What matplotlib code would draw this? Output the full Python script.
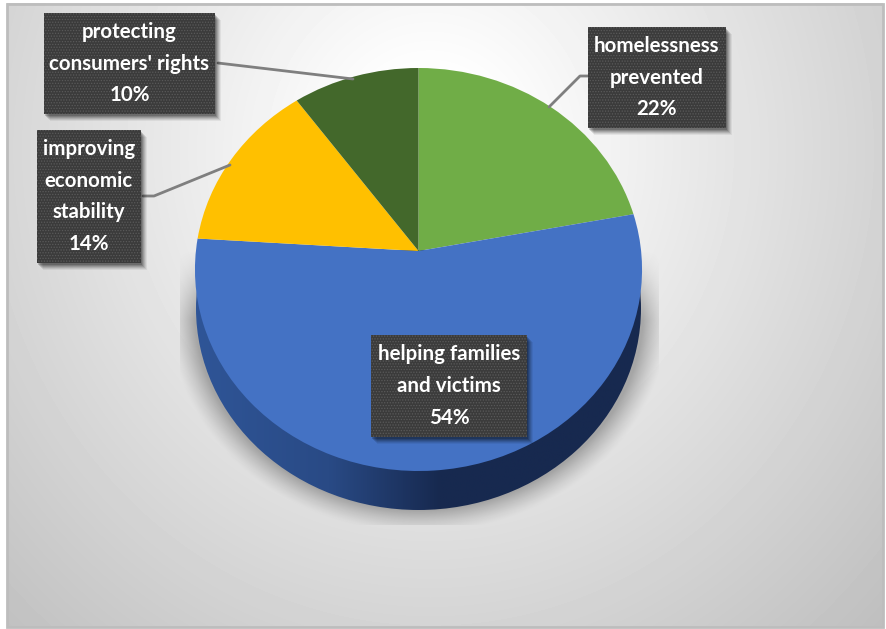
import numpy as np
import matplotlib
matplotlib.use("Agg")
import matplotlib.pyplot as plt
from matplotlib.colors import LinearSegmentedColormap
from matplotlib.patches import Ellipse, Rectangle
from matplotlib.transforms import Transform

# chart data, clockwise from 12 o'clock
labels = ["homelessness\nprevented", "helping families\nand victims", "improving\neconomic\nstability", "protecting\nconsumers' rights"]
values = [22, 54, 14, 10]
colors = ["#70AD47", "#4472C4", "#FFC000", "#43682B"]

plt.rcParams["font.family"] = ["Lato", "DejaVu Sans"]
plt.rcParams["hatch.linewidth"] = 0.6
W, H = 887, 629


class TiltedPie(Transform):
    # perspective view of the unit disc, apex sits above the middle of the ellipse
    input_dims = 2
    output_dims = 2

    def transform_non_affine(self, xy):
        xy = np.asarray(xy)
        d = 0.0918 * xy[:, 1] + 1
        return np.column_stack([418.5 + 222.6 * xy[:, 0] / d, (251 - 176.76 * xy[:, 1]) / d])


fig = plt.figure(figsize=(W / 100, H / 100), dpi=100)
ax = fig.add_axes([0, 0, 1, 1])

# grey background, bright at the top middle, white margin outside the frame
yy, xx = np.mgrid[0:H, 0:W]
dist = np.hypot((xx - 430) / 560, (yy - 150) / 600)
shade = np.clip(1.03 - 0.25 * dist, 0, 1)
shade = np.where((xx < 7) | (xx > 882) | (yy < 3) | (yy > 626), 1.0, shade)
ax.imshow(shade, cmap="gray", vmin=0, vmax=1, extent=(0, W, H, 0), zorder=0, interpolation="bilinear")
ax.add_patch(Rectangle((7, 3.5), W - 11, H - 6, fill=False, ec="#bdbdbd", lw=2, zorder=1))

# soft shadow under the pie, it is cut off by a hard box
r = np.hypot((xx - 418.5) / 236, (yy - 312) / 208)
soft = np.clip(1 - (r - 0.95) / 0.11, 0, 1) ** 1.3
soft = soft * np.clip((yy - 250) / 70, 0, 1)
soft = np.where((yy > 524) | (xx < 180) | (xx > 658), 0, soft)
rgba = np.zeros((H, W, 4))
rgba[..., :3] = 0.4
rgba[..., 3] = soft * 0.5
ax.imshow(rgba, extent=(0, W, H, 0), zorder=2, interpolation="bilinear")

# side wall of the pie
side = Ellipse((418.5, 308.5), 445, 403, fc="none", ec="none")
ax.add_patch(side)
ramp = np.interp(np.linspace(0, 1, 256), [0, 0.3, 0.55, 1], [0.0, 0.25, 1.0, 1.0])[None, :]
wall = ax.imshow(ramp, cmap=LinearSegmentedColormap.from_list("wall", ["#2F5597", "#17294F"]),
                 extent=(195, 642, 530, 250), zorder=3, aspect="auto")
wall.set_clip_path(side)

wedges, _ = ax.pie(values, colors=colors, startangle=90, counterclock=False, radius=1, center=(0, 0))
for w in wedges:
    w.set_transform(TiltedPie() + ax.transData)
    w.set_zorder(4)
    w.set_edgecolor("none")

ax.set_aspect("auto")
ax.set_xlim(0, W)
ax.set_ylim(H, 0)
ax.axis("off")

# leader lines
for lx, ly in [([588, 580, 549], [76, 76, 107]), ([218, 353], [63, 79]), ([143, 154, 230], [196, 196, 165])]:
    ax.plot(lx, ly, color="#7f7f7f", lw=2, zorder=5, solid_capstyle="round")

# label boxes: left, top, right, bottom
boxes = [(588, 27, 726, 128), (371, 335, 527, 437), (37, 130, 141, 263), (44, 13, 215, 114)]
for name, v, (x0, y0, x1, y1) in zip(labels, values, boxes):
    for off, a in [(7, 0.06), (6, 0.08), (5, 0.1), (4, 0.12), (3, 0.15), (2, 0.18)]:
        ax.add_patch(Rectangle((x0 + off - 1, y0 + off), x1 - x0, y1 - y0, fc="#000000", ec="none", alpha=a, zorder=6))
    ax.add_patch(Rectangle((x0, y0), x1 - x0, y1 - y0, fc="#3B3B3B", ec="#5A5A5A", lw=0, hatch="......", zorder=7))
    ax.text((x0 + x1) / 2, (y0 + y1) / 2, f"{name}\n{v}%", color="white", fontsize=14.8, fontweight="bold",
            ha="center", va="center", linespacing=1.72, zorder=8)

fig.savefig("out.png", dpi=100)
